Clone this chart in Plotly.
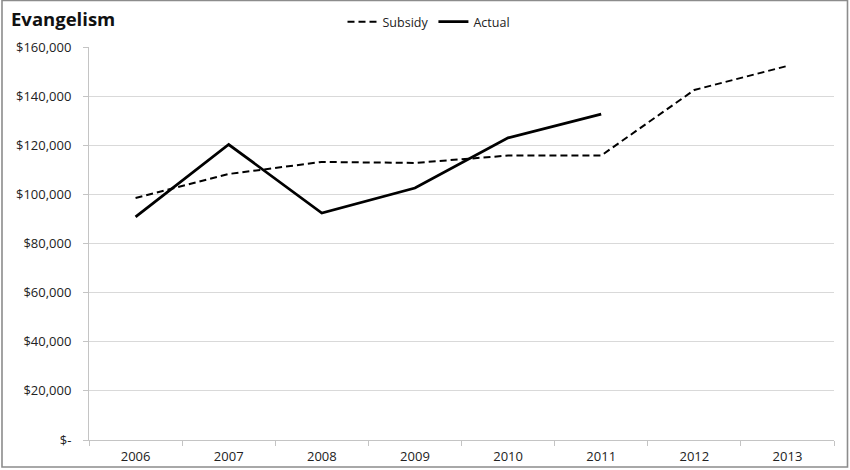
import plotly.graph_objects as go

years = ["2006", "2007", "2008", "2009", "2010", "2011", "2012", "2013"]
subsidy = [98500, 108300, 113200, 112800, 115800, 115800, 142500, 152300]
actual_years = ["2006", "2007", "2008", "2009", "2010", "2011"]
actual = [90800, 120300, 92400, 102600, 123000, 132700]
y_tickvals = [0, 20000, 40000, 60000, 80000, 100000, 120000, 140000, 160000]
y_ticktext = ["$-", "$20,000", "$40,000", "$60,000", "$80,000",
              "$100,000", "$120,000", "$140,000", "$160,000"]

FONT = "Open Sans"

fig = go.Figure()
fig.add_trace(go.Scatter(x=years, y=subsidy, mode="lines", name="Subsidy",
                         line=dict(color="black", width=2, dash="7px,4px")))
fig.add_trace(go.Scatter(x=actual_years, y=actual, mode="lines", name="Actual",
                         line=dict(color="black", width=2.8)))

L, R, T, B = 89, 16, 47, 30
W, H = 850, 470
pw, ph = W - L - R, H - T - B

fig.update_layout(
    width=W, height=H,
    margin=dict(l=L, r=R, t=T, b=B, autoexpand=False),
    paper_bgcolor="white", plot_bgcolor="white",
    font=dict(family=FONT, size=13, color="#222"),
    title=dict(text="<b>Evangelism</b>", x=11 / W, xanchor="left",
               y=1 - 20 / H, yanchor="middle",
               font=dict(family=FONT, size=18.5, color="#111")),
    showlegend=True,
    legend=dict(orientation="h", x=(429 - L) / pw, xanchor="center",
                y=(H - B - 22) / ph, yanchor="middle",
                font=dict(family=FONT, size=12.5, color="#222"),
                itemwidth=30, tracegroupgap=0, bgcolor="rgba(0,0,0,0)"),
    xaxis=dict(type="category", categoryorder="array", categoryarray=years,
               showgrid=False, showline=True, linecolor="#c4c4c4", linewidth=1,
               ticks="outside", tickson="boundaries", ticklen=5,
               tickcolor="#c4c4c4", tickfont=dict(size=13, color="#222"),
               ticklabelstandoff=4, automargin=False,
               range=[-0.5, 7.5], zeroline=False),
    yaxis=dict(range=[0, 160000], tickvals=y_tickvals, ticktext=y_ticktext,
               showgrid=True, gridcolor="#d9d9d9", gridwidth=1,
               showline=True, linecolor="#c4c4c4", linewidth=1,
               ticks="outside", ticklen=5, tickcolor="#c4c4c4",
               tickfont=dict(size=13, color="#222"), ticklabelstandoff=9,
               automargin=False, zeroline=False),
    shapes=[dict(type="rect", xref="paper", yref="paper",
                 x0=(2 - L) / pw, x1=(W - 2.5 - L) / pw,
                 y0=(H - B - (H - 3)) / ph, y1=(H - B - 0.5) / ph,
                 line=dict(color="#8c8c8c", width=1.6), layer="below")],
)

fig.write_html(
    "out.html",
    config={"displayModeBar": False},
    post_script="document.body.style.margin='0';document.body.style.overflow='hidden';",
)
